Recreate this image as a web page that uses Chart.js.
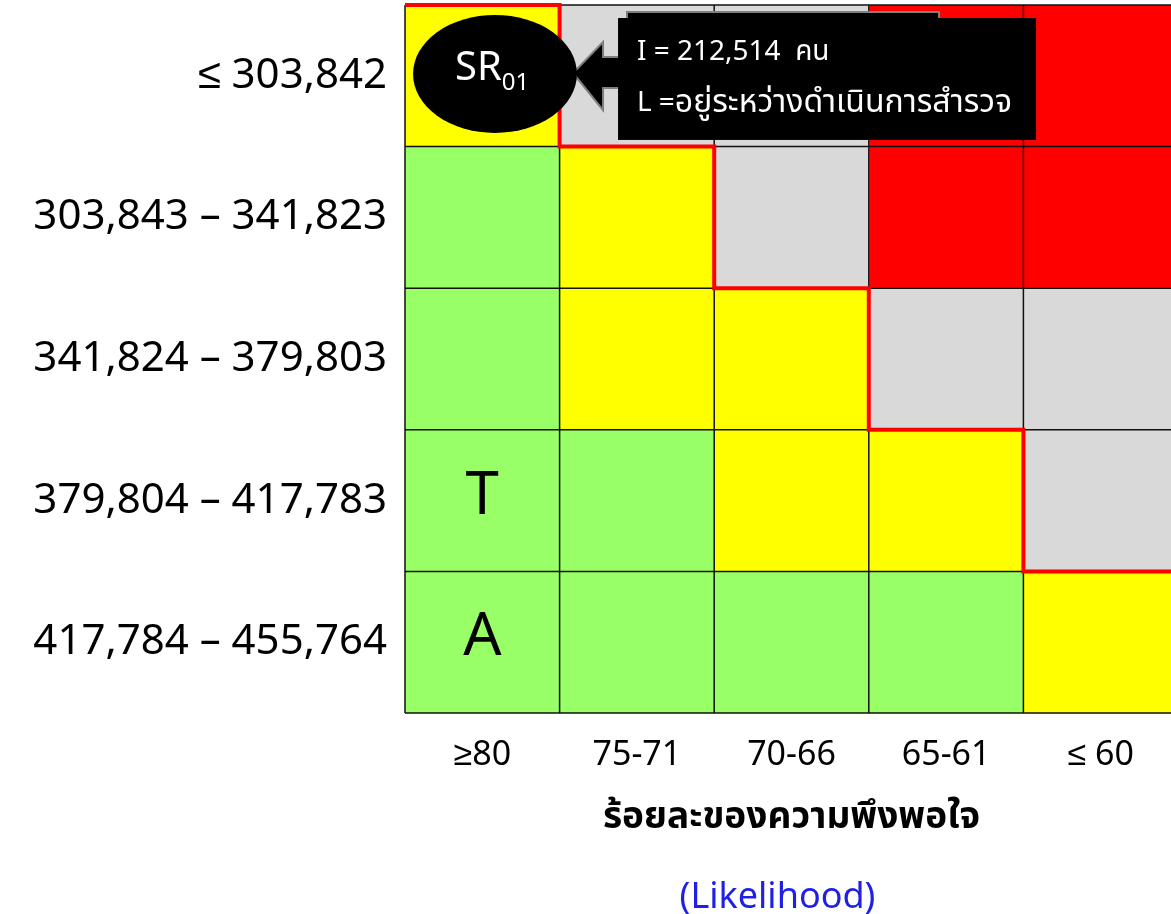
<!DOCTYPE html>
<html>
<head>
<meta charset="utf-8">
<script src="https://cdn.jsdelivr.net/npm/chart.js@4.4.0/dist/chart.umd.min.js"></script>
<style>
  html, body { margin: 0; padding: 0; background: #fff; overflow: hidden; }
  #wrap { position: relative; width: 1180px; height: 914px; }
</style>
</head>
<body>
<div id="wrap"><canvas id="riskMatrix"></canvas></div>
<script>
// rows = impact (I), top to bottom
const impactLabels = ['≤ 303,842', '303,843 – 341,823', '341,824 – 379,803', '379,804 – 417,783', '417,784 – 455,764'];
// columns = likelihood (L), left to right
const likelihoodLabels = ['≥80', '75-71', '70-66', '65-61', '≤ 60'];

// G = green, Y = yellow, S = grey, R = red
const riskGrid = [
  ['Y', 'S', 'S', 'R', 'R'],
  ['G', 'Y', 'S', 'R', 'R'],
  ['G', 'Y', 'Y', 'S', 'S'],
  ['G', 'G', 'Y', 'Y', 'S'],
  ['G', 'G', 'G', 'G', 'Y']
];

// column edge where the red appetite line steps down, per row
const boundaryCols = [1, 2, 3, 4];

const cellMarks = [
  { row: 3, col: 0, text: 'T' },
  { row: 4, col: 0, text: 'A' }
];

const calloutCode = ['SR', '01'];
const calloutLines = [['I = 212,514  คน', ''], ['L =', 'อยู่ระหว่างดำเนินการสำรวจ']];

const colorOf = { G: '#99FF66', Y: '#FFFF00', S: '#D9D9D9', R: '#FF0000' };
const FONT = "'Noto Sans', 'Noto Sans Thai', sans-serif";

const datasets = likelihoodLabels.map((lab, c) => ({
  label: lab,
  data: impactLabels.map(() => 1),
  backgroundColor: impactLabels.map((_, r) => colorOf[riskGrid[r][c]]),
  borderWidth: 0,
  inflateAmount: 0.5,
  barPercentage: 1,
  categoryPercentage: 1
}));

const overlayPlugin = {
  id: 'riskOverlay',
  afterDatasetsDraw(chart) {
    const { ctx, chartArea, scales: { x } } = chart;
    const cellH = (chartArea.bottom - chartArea.top) / impactLabels.length;
    const px = u => x.getPixelForValue(u);
    const py = v => chartArea.top + v * cellH;
    ctx.save();

    // cell borders
    ctx.strokeStyle = '#111';
    ctx.lineWidth = 1.5;
    ctx.beginPath();
    for (let c = 0; c <= likelihoodLabels.length; c++) {
      ctx.moveTo(px(c), py(0));
      ctx.lineTo(px(c), py(impactLabels.length));
    }
    for (let r = 0; r <= impactLabels.length; r++) {
      ctx.moveTo(px(0), py(r));
      ctx.lineTo(px(likelihoodLabels.length), py(r));
    }
    ctx.stroke();

    // red staircase
    ctx.strokeStyle = '#FF0000';
    ctx.lineWidth = 4;
    ctx.lineJoin = 'miter';
    ctx.beginPath();
    ctx.moveTo(px(0), py(0));
    ctx.lineTo(px(boundaryCols[0]), py(0));
    boundaryCols.forEach((b, r) => {
      ctx.lineTo(px(b), py(r + 1));
      const next = r + 1 < boundaryCols.length ? boundaryCols[r + 1] : b + 1;
      ctx.lineTo(px(next), py(r + 1));
    });
    ctx.stroke();

    // letters in cells
    ctx.fillStyle = '#000';
    ctx.font = `60px ${FONT}`;
    ctx.textAlign = 'center';
    ctx.textBaseline = 'middle';
    cellMarks.forEach(m => ctx.fillText(m.text, px(m.col + 0.5), py(m.row + 0.5) - 4));

    // callout arrow shape
    ctx.beginPath();
    ctx.moveTo(px(1.436), py(0.049));
    ctx.lineTo(px(3.454), py(0.049));
    ctx.lineTo(px(3.454), py(0.92));
    ctx.lineTo(px(1.436), py(0.92));
    ctx.lineTo(px(1.436), py(0.586));
    ctx.lineTo(px(1.281), py(0.586));
    ctx.lineTo(px(1.281), py(0.742));
    ctx.lineTo(px(1.087), py(0.48));
    ctx.lineTo(px(1.281), py(0.261));
    ctx.lineTo(px(1.281), py(0.367));
    ctx.lineTo(px(1.436), py(0.367));
    ctx.closePath();
    ctx.fillStyle = '#000';
    ctx.fill();
    ctx.strokeStyle = '#7F7F7F';
    ctx.lineWidth = 2;
    ctx.stroke();

    // text box
    ctx.fillStyle = '#000';
    ctx.fillRect(px(1.378), py(0.092), px(4.082) - px(1.378), py(0.953) - py(0.092));
    ctx.fillStyle = '#fff';
    ctx.textAlign = 'left';
    const lineY = [0.33, 0.69];
    calloutLines.forEach((parts, i) => {
      let tx = px(1.5);
      ctx.font = `28px ${FONT}`;
      ctx.fillText(parts[0], tx, py(lineY[i]));
      tx += ctx.measureText(parts[0]).width;
      ctx.font = `32px ${FONT}`;
      ctx.fillText(parts[1], tx, py(lineY[i]));
    });

    // ellipse with code
    ctx.fillStyle = '#000';
    ctx.beginPath();
    ctx.ellipse(px(0.582), py(0.487), 0.53 * (px(1) - px(0)), 0.417 * cellH, 0, 0, Math.PI * 2);
    ctx.fill();
    ctx.fillStyle = '#fff';
    ctx.font = `40px ${FONT}`;
    ctx.textBaseline = 'alphabetic';
    const sx = px(0.582) - 40;
    ctx.fillText(calloutCode[0], sx, py(0.487) + 6);
    const w = ctx.measureText(calloutCode[0]).width;
    ctx.font = `24px ${FONT}`;
    ctx.fillText(calloutCode[1], sx + w, py(0.487) + 16);

    // english sub-title under the axis title
    ctx.fillStyle = '#1F1FE6';
    ctx.font = `36px ${FONT}`;
    ctx.textAlign = 'center';
    ctx.textBaseline = 'middle';
    ctx.fillText('(Likelihood)', (chartArea.left + chartArea.right) / 2 - 14, chart.height - 16);
    ctx.restore();
  }
};

new Chart(document.getElementById('riskMatrix'), {
  type: 'bar',
  data: { labels: impactLabels, datasets },
  options: {
    indexAxis: 'y',
    responsive: true,
    maintainAspectRatio: false,
    animation: false,
    layout: { padding: { top: 5, right: 2, left: 0, bottom: 0 } },
    plugins: { legend: { display: false }, tooltip: { enabled: false } },
    scales: {
      x: {
        type: 'linear',
        stacked: true,
        min: 0,
        max: 5,
        grid: { display: false, drawTicks: false },
        border: { display: false },
        afterBuildTicks: s => { s.ticks = likelihoodLabels.map((_, i) => ({ value: i + 0.5 })); },
        afterFit: s => { s.height = 201; s.paddingLeft = 0; s.paddingRight = 0; },
        ticks: {
          autoSkip: false,
          maxRotation: 0,
          padding: 22,
          color: '#000',
          font: { family: FONT, size: 34 },
          callback: (v, i) => likelihoodLabels[i]
        },
        title: {
          display: true,
          text: 'ร้อยละของความพึงพอใจ',
          color: '#000',
          font: { family: FONT, size: 37, weight: 'bold' },
          padding: { top: 0, bottom: 74 }
        }
      },
      y: {
        stacked: true,
        grid: { display: false, drawTicks: false },
        border: { display: false },
        afterFit: s => { s.width = 405; s.paddingTop = 0; s.paddingBottom = 0; },
        ticks: {
          padding: 18,
          color: '#000',
          font: { family: FONT, size: 42 }
        }
      }
    }
  },
  plugins: [overlayPlugin]
});
</script>
</body>
</html>
